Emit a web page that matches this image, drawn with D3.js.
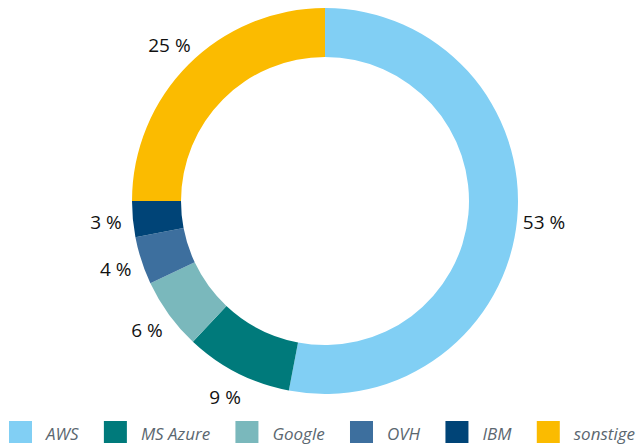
<!DOCTYPE html>
<html><head><meta charset="utf-8">
<script src="https://cdn.jsdelivr.net/npm/d3@7"></script>
<style>html,body{margin:0;padding:0;background:#fff;}svg{display:block;}</style>
</head><body>
<svg id="chart" width="640" height="447"></svg>
<script>
const categories = ["AWS", "MS Azure", "Google", "OVH", "IBM", "sonstige"];
const values = [53, 9, 6, 4, 3, 25];
const colors = ["#81cff4", "#007a7b", "#7ab8bc", "#3d6f9e", "#004477", "#fbbb00"];

const svg = d3.select("#chart");
const cx = 325, cy = 201, outerR = 193, innerR = 144, labelR = 220;

const pie = d3.pie().sort(null).value(d => d)(values);
const arc = d3.arc().innerRadius(innerR).outerRadius(outerR);
const labelArc = d3.arc().innerRadius(labelR).outerRadius(labelR);

const g = svg.append("g").attr("transform", `translate(${cx},${cy})`);
g.selectAll("path").data(pie).join("path")
  .attr("d", arc)
  .attr("fill", (d, i) => colors[i]);

g.selectAll("text").data(pie).join("text")
  .attr("transform", d => `translate(${labelArc.centroid(d)})`)
  .attr("text-anchor", "middle")
  .attr("dy", "0.36em")
  .attr("font-family", "'Open Sans', sans-serif")
  .attr("font-size", 19)
  .attr("fill", "#111")
  .text(d => d.data + " %");

// legend: square, gap, label; spread to span the width
const sq = 23, gapIn = 14, left = 9, right = 635;
const leg = svg.append("g");
const items = categories.map((c, i) => {
  const t = leg.append("text").attr("y", 440)
    .attr("font-family", "'Open Sans', sans-serif").attr("font-style", "italic")
    .attr("font-size", 17).attr("fill", "#5b6770").text(c);
  return {t, w: t.node().getComputedTextLength(), i};
});
const used = d3.sum(items, d => sq + gapIn + d.w);
const gap = (right - left - used) / (items.length - 1);
let x = left;
items.forEach(d => {
  leg.append("rect").attr("x", x).attr("y", 421).attr("width", sq).attr("height", 22).attr("fill", colors[d.i]);
  d.t.attr("x", x + sq + gapIn);
  x += sq + gapIn + d.w + gap;
});
</script>
</body></html>
